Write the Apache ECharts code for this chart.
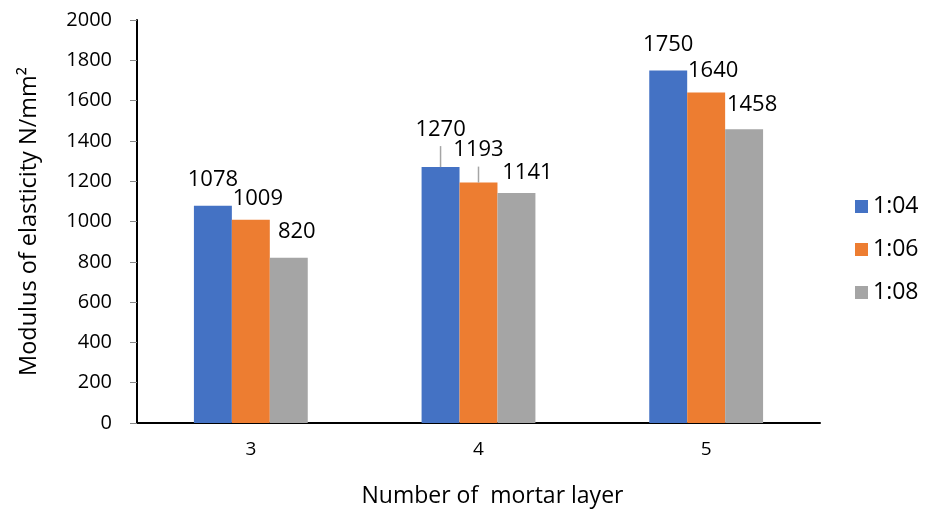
<!DOCTYPE html>
<html>
<head>
<meta charset="utf-8">
<script src="https://cdn.jsdelivr.net/npm/echarts@6/dist/echarts.min.js"></script>
<style>
  html, body { margin: 0; padding: 0; background: #fff; }
  #chart { width: 939px; height: 513px; }
</style>
</head>
<body>
<div id="chart"></div>
<script>
// Mortar layer counts along the category axis
const layers = ['3', '4', '5'];
// Modulus of elasticity (N/mm²) for each mix ratio
const ratio104 = [1078, 1270, 1750];
const ratio106 = [1009, 1193, 1640];
const ratio108 = [820, 1141, 1458];
const seriesNames = ['1:04', '1:06', '1:08'];
const yTicks = { min: 0, max: 2000, interval: 200 };

// Label nudges [dx, dy] per bar (series x category)
const labelNudge = [
  [[0, 0], [0, -11], [0, 0]],
  [[7, 5], [0, -7], [7, 4]],
  [[8, 0], [11, 6], [8, 2]]
];
// Leader line length in px above the bar top (0 = none)
const leaderLen = [
  [0, 21, 0],
  [0, 16, 0],
  [0, 0, 0]
];

const colors = ['#4472C4', '#ED7D31', '#A5A5A5'];
const FONT = 'Open Sans';
const allValues = [ratio104, ratio106, ratio108];

function makeSeries(idx, values) {
  return {
    name: seriesNames[idx],
    type: 'bar',
    barGap: '0%',
    barCategoryGap: '50%',
    itemStyle: { color: colors[idx] },
    label: {
      show: true,
      position: 'top',
      distance: 15,
      color: '#000',
      fontFamily: FONT,
      fontSize: 22
    },
    data: values.map((v, i) => ({
      value: v,
      label: { offset: labelNudge[idx][i] }
    }))
  };
}

// Leader lines drawn from the top of selected bars
const leaderData = [];
allValues.forEach((vals, s) => {
  vals.forEach((v, i) => {
    if (leaderLen[s][i] > 0) leaderData.push([i, v, s, leaderLen[s][i]]);
  });
});

const leaderSeries = {
  type: 'custom',
  name: 'leaders',
  silent: true,
  z: 5,
  encode: { x: 0, y: 1 },
  data: leaderData,
  renderItem: function (params, api) {
    const pt = api.coord([api.value(0), api.value(1)]);
    const catW = api.size([1, 0])[0];
    const barW = catW * 0.5 / 3;
    const x = pt[0] + (api.value(2) - 1) * barW;
    return {
      type: 'line',
      shape: { x1: x, y1: pt[1], x2: x, y2: pt[1] - api.value(3) },
      style: { stroke: '#A5A5A5', lineWidth: 1.5 }
    };
  }
};

const chart = echarts.init(document.getElementById('chart'));
chart.setOption({
  animation: false,
  backgroundColor: '#fff',
  textStyle: { fontFamily: FONT },
  grid: { left: 137, right: 119, top: 20, bottom: 88, containLabel: false },
  legend: {
    orient: 'vertical',
    left: 855,
    top: 195,
    padding: 0,
    itemWidth: 13,
    itemHeight: 13,
    itemGap: 20,
    icon: 'rect',
    textStyle: { fontFamily: FONT, fontSize: 23, color: '#000' },
    data: seriesNames
  },
  xAxis: {
    type: 'category',
    data: layers,
    name: 'Number of  mortar layer',
    nameLocation: 'middle',
    nameGap: 62,
    nameTextStyle: { fontFamily: FONT, fontSize: 23, color: '#000', padding: [0, 0, 0, 28] },
    axisLine: { lineStyle: { color: '#000', width: 2 } },
    axisTick: { show: false },
    axisLabel: { fontFamily: FONT, fontSize: 19, color: '#000', margin: 17 }
  },
  yAxis: {
    type: 'value',
    min: yTicks.min,
    max: yTicks.max,
    interval: yTicks.interval,
    name: 'Modulus of elasticity N/mm²',
    nameLocation: 'middle',
    nameGap: 96,
    nameTextStyle: { fontFamily: FONT, fontSize: 23.5, color: '#000' },
    axisLine: { show: true, lineStyle: { color: '#000', width: 2 } },
    axisTick: { show: true, length: 7, lineStyle: { color: '#888' } },
    splitLine: { show: false },
    axisLabel: {
      fontFamily: FONT, fontSize: 20, color: '#000', margin: 25,
      formatter: function (v) { return String(v); }
    }
  },
  series: [
    makeSeries(0, ratio104),
    makeSeries(1, ratio106),
    makeSeries(2, ratio108),
    leaderSeries
  ]
});
</script>
</body>
</html>
